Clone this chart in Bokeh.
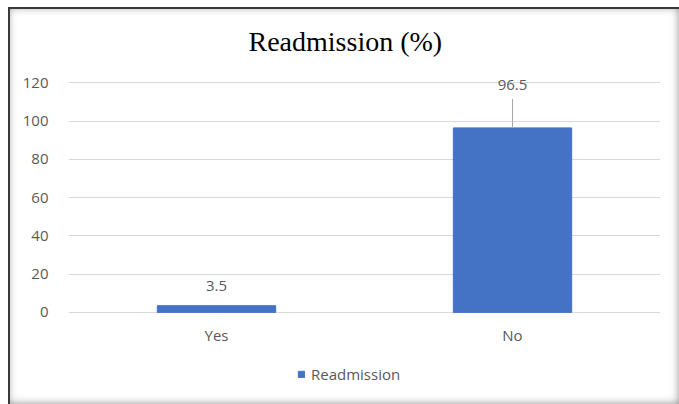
from bokeh.plotting import figure
from bokeh.models import (ColumnDataSource, FactorRange, Range1d, FixedTicker,
                          LabelSet, Legend, LegendItem)
from bokeh.core.properties import value
from bokeh.embed import file_html
from bokeh.resources import INLINE

# ---- data ----
categories = ["Yes", "No"]
values = [3.5, 96.5]
value_labels = ["3.5", "96.5"]
y_ticks = [0, 20, 40, 60, 80, 100, 120]
series_name = "Readmission"
title_text = "Readmission (%)"

# ---- styles ----
BAR = "#4472C4"
TXT = "#595959"
GRID = "#D9D9D9"
FONT = "Open Sans"
label_offsets = [20, 43]

src = ColumnDataSource(dict(cat=categories, val=values, lab=value_labels,
                            off=label_offsets, base=[0] * len(categories)))

# frame extends below the zero line to hold category labels and legend
p = figure(x_range=FactorRange(*categories, range_padding=0),
           y_range=Range1d(-44, 126),
           width=671, height=397, output_backend="svg", toolbar_location=None,
           min_border_left=60, min_border_right=19, min_border_top=64,
           min_border_bottom=8, margin=(7, 0, 0, 8),
           styles={"box-shadow": "inset 2px 2px 0 #3a3a3a, inset 0 0 9px rgba(0,0,0,0.45)"})
p.border_fill_alpha = 0
p.background_fill_color = "white"
p.outline_line_color = None

p.title.text = title_text
p.title.align = "left"
p.title.offset = 180
p.title.text_font = "Liberation Serif"
p.title.text_font_size = "28px"
p.title.text_font_style = "normal"
p.title.text_color = "#000000"
p.title.standoff = 29

bars = p.vbar(x="cat", top="val", width=0.4, source=src, fill_color=BAR,
              line_color=BAR)

# leader line from bar top to the displaced label
p.ray(x=["No"], y=[values[1]], length=29, length_units="screen", angle=90,
      angle_units="deg", line_color="#A6A6A6", line_width=1)

labels = LabelSet(x="cat", y="val", text="lab", y_offset="off", source=src,
                  text_align="center", text_baseline="middle",
                  text_font=value(FONT), text_font_size=value("15px"),
                  text_color=value(TXT))
p.add_layout(labels)

# category labels under the zero line
cat_labels = LabelSet(x="cat", y="base", text="cat", y_offset=-23, source=src,
                      text_align="center", text_baseline="middle",
                      text_font=value(FONT), text_font_size=value("15px"),
                      text_color=value(TXT))
p.add_layout(cat_labels)

p.yaxis.ticker = FixedTicker(ticks=y_ticks)
p.yaxis.axis_line_color = None
p.yaxis.major_tick_line_color = None
p.yaxis.minor_tick_line_color = None
p.yaxis.major_label_standoff = 14
p.yaxis.major_label_text_font = FONT
p.yaxis.major_label_text_font_size = "15px"
p.yaxis.major_label_text_color = TXT

p.xaxis.visible = False

p.xgrid.grid_line_color = None
p.ygrid.grid_line_color = GRID
p.ygrid.grid_line_width = 1

legend = Legend(items=[LegendItem(label=series_name, renderers=[bars])],
                location=(229, 12), orientation="horizontal",
                glyph_width=8, glyph_height=8, label_standoff=6,
                label_height=16, padding=0, margin=0, spacing=0,
                label_text_font=FONT, label_text_font_size="15px",
                label_text_color=TXT, border_line_color=None,
                background_fill_alpha=0)
p.add_layout(legend)

open("out.html", "w").write(file_html(p, INLINE))
